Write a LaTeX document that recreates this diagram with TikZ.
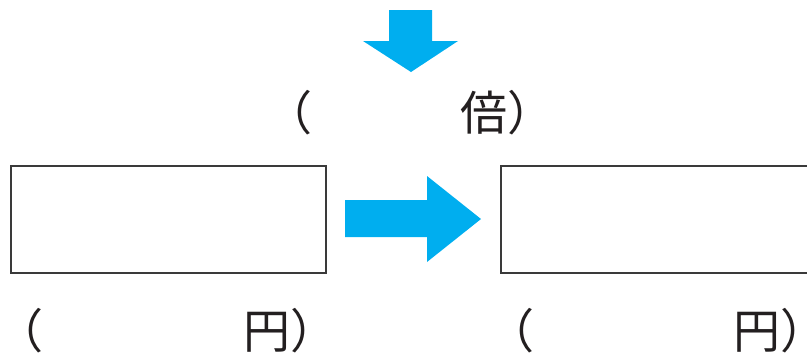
\documentclass[tikz,border=0pt]{standalone}
\usepackage{fontspec}
\newfontfamily\jpfont{Noto Sans CJK JP}
\definecolor{arrowblue}{HTML}{00AEEF}
\definecolor{inkgray}{HTML}{231F20}
\definecolor{boxgray}{HTML}{3A3A3A}
\tikzset{
  answerbox/.style={draw=boxgray, line width=1.5pt, fill=white, minimum width=315pt, minimum height=107pt, inner sep=0pt},
  lbl/.style={font=\jpfont\fontsize{47}{47}\selectfont, text=inkgray, inner sep=0pt},
  bluearrow/.style={fill=arrowblue, draw=none}
}
\newcommand\closeparen{\makebox[0.5em][l]{）}}
\newcommand\openparen{\makebox[0.5em][r]{（}}
\begin{document}
\begin{tikzpicture}[x=1pt,y=-1pt]
\useasboundingbox (0,0) rectangle (807,354);
\clip (0,0) rectangle (807,354);
% down arrow
\fill[bluearrow] (389,10) -- (432,10) -- (432,41) -- (458,41) -- (411,72) -- (363,41) -- (389,41) -- cycle;
% top label
\node[lbl, anchor=base east] (topL) at (313,130) {\openparen};
\node[lbl, anchor=base west] (topR) at (460,130) {倍\closeparen};
% boxes
\node[answerbox, anchor=north west] (boxA) at (10,165) {};
\node[answerbox, anchor=north west] (boxB) at (500,165) {};
% right arrow
\fill[bluearrow] (345,200) -- (427,200) -- (427,176) -- (481,219) -- (427,262) -- (427,237) -- (345,237) -- cycle;
% bottom labels
\node[lbl, anchor=base east] (botAL) at (44,348) {\openparen};
\node[lbl, anchor=base west] (botAR) at (243,348) {円\closeparen};
\node[lbl, anchor=base east] (botBL) at (535,348) {\openparen};
\node[lbl, anchor=base west] (botBR) at (733,348) {円\closeparen};
\end{tikzpicture}
\end{document}
